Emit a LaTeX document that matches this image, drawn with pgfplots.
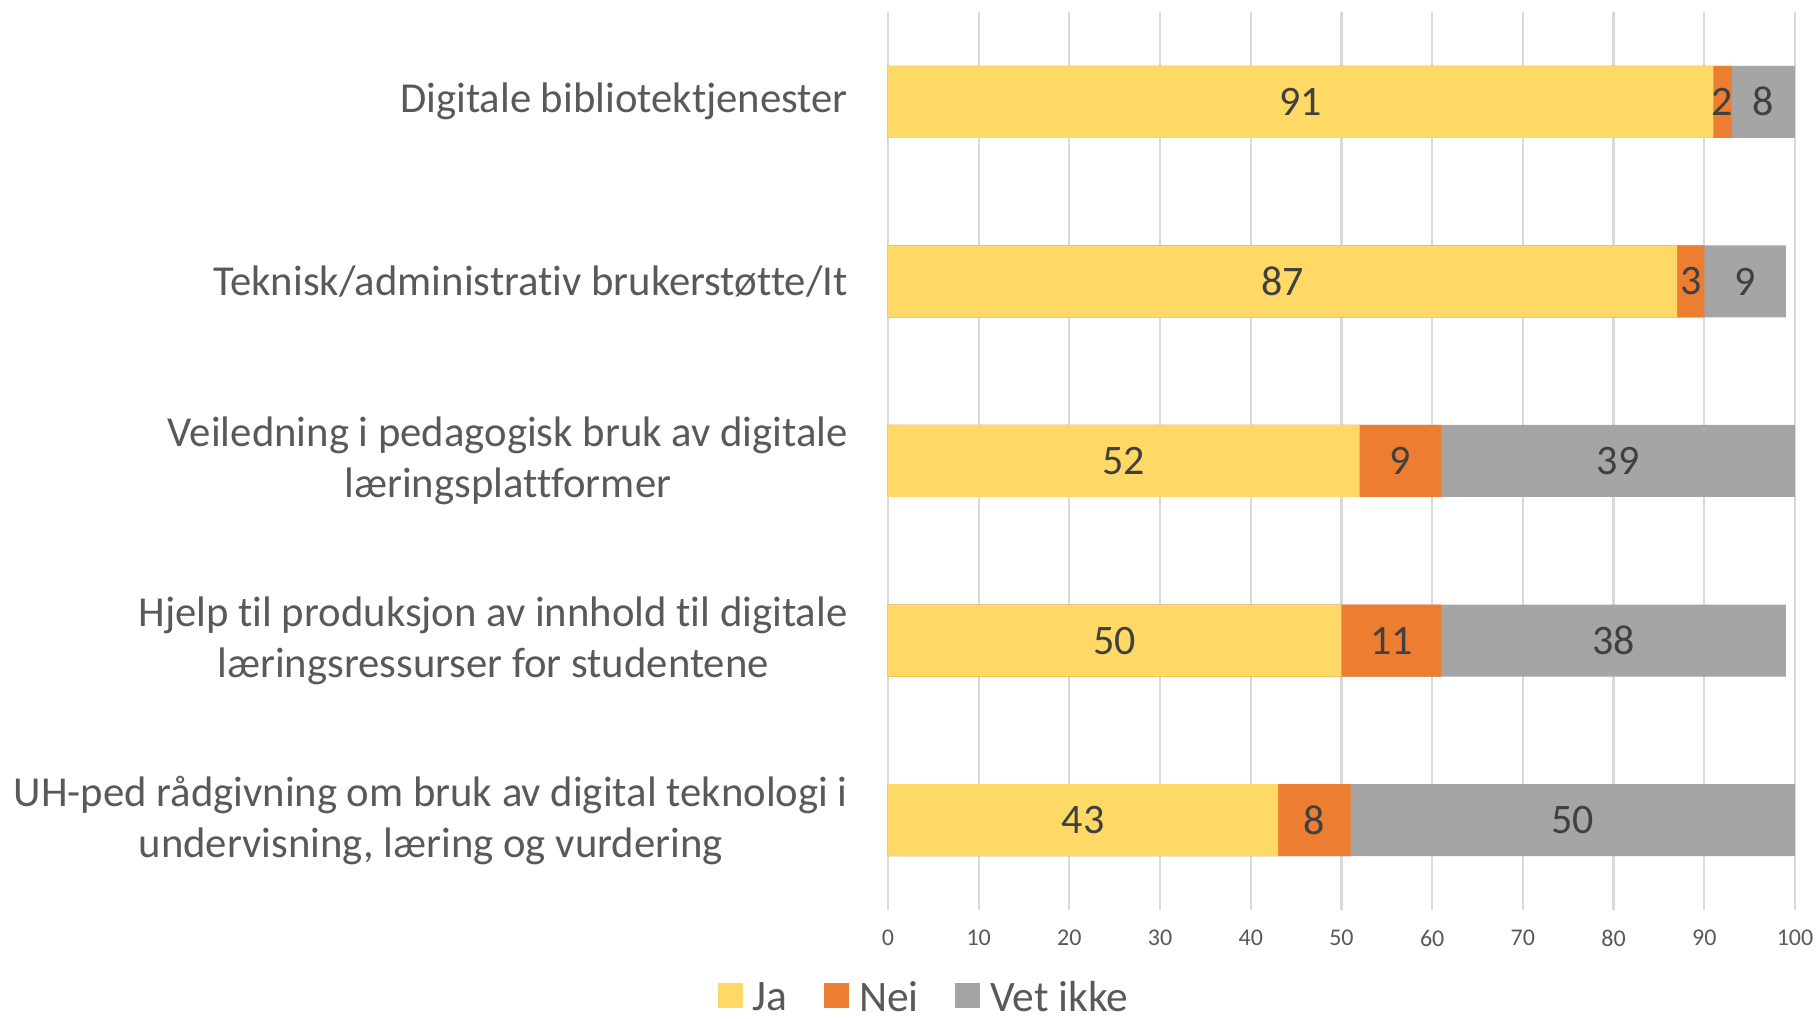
\documentclass[border=0pt]{standalone}
\usepackage{pgfplots}
\pgfplotsset{compat=1.18}
\usepackage{pgfplotstable}
\usepackage{fontspec}
\setmainfont{Carlito}[Ligatures=CommonOff]
\definecolor{jacol}{HTML}{FFD966}
\definecolor{neicol}{HTML}{ED7D31}
\definecolor{vetcol}{HTML}{A5A5A5}
\definecolor{txt}{HTML}{595959}
\definecolor{lbl}{HTML}{404040}
\definecolor{grd}{HTML}{D9D9D9}
% y: 0 = bottom category ... 4 = top category
\pgfplotstableread{
y ja nei vet lja lnei lvet
4 91 2 7 91 2 8
3 87 3 9 87 3 9
2 52 9 39 52 9 39
1 50 11 38 50 11 38
0 43 8 49 43 8 50
}\data
\begin{document}
\begin{tikzpicture}
\begin{axis}[
  scale only axis, width=907bp, height=898bp,
  xmin=0, xmax=100, ymin=-0.5, ymax=4.5,
  xtick={0,10,...,100}, ytick={0,1,2,3,4},
  yticklabels={{UH-ped rådgivning om bruk av digital teknologi i\\undervisning, læring og vurdering},
               {Hjelp til produksjon av innhold til digitale\\læringsressurser for studentene},
               {Veiledning i pedagogisk bruk av digitale\\læringsplattformer},
               {Teknisk/administrativ brukerstøtte/It},
               {Digitale bibliotektjenester}},
  axis line style={draw=none},
  major tick length=0pt,
  xmajorgrids, grid style={grd, line width=2.2bp},
  /pgf/number format/assume math mode=true,
  xticklabel style={font=\fontsize{24bp}{29bp}\selectfont, text=txt, yshift=-16.5bp},
  yticklabel style={font=\fontsize{42.7bp}{51bp}\selectfont, text=txt, align=center, inner sep=0pt, xshift=-40bp},
  legend columns=-1,
  legend image code/.code={\fill[#1] (0bp,-10bp) rectangle (24bp,14bp);},
  legend style={draw=none, fill=none, at={(0.0385,-0.0975)}, anchor=center,
    font=\fontsize{43.5bp}{50bp}\selectfont, text=txt,
    nodes={inner sep=0pt},
    /tikz/every odd column/.append style={column sep=11bp},
    /tikz/every even column/.append style={column sep=36bp}},
  clip=false,
]
\addlegendimage{jacol}\addlegendentry{Ja}
\addlegendimage{neicol}\addlegendentry{Nei}
\addlegendimage{vetcol}\addlegendentry{Vet ikke}

\addplot[xbar, bar shift=0pt, bar width=72bp, fill=vetcol, draw=none, forget plot]
  table[x expr=\thisrow{ja}+\thisrow{nei}+\thisrow{vet}, y=y]{\data};
\addplot[xbar, bar shift=0pt, bar width=72bp, fill=neicol, draw=none, forget plot]
  table[x expr=\thisrow{ja}+\thisrow{nei}, y=y]{\data};
\addplot[xbar, bar shift=0pt, bar width=72bp, fill=jacol, draw=none, forget plot]
  table[x=ja, y=y]{\data};

\pgfplotsset{lblstyle/.style={forget plot, draw=none, mark=none, nodes near coords,
  point meta=explicit symbolic, nodes near coords align={center},
  every node near coord/.append style={anchor=center, text=lbl, font=\fontsize{42bp}{50bp}\selectfont}}}
\addplot[lblstyle] table[x expr=\thisrow{ja}/2, y=y, meta=lja]{\data};
\addplot[lblstyle] table[x expr=\thisrow{ja}+\thisrow{nei}/2, y=y, meta=lnei]{\data};
\addplot[lblstyle] table[x expr=\thisrow{ja}+\thisrow{nei}+\thisrow{vet}/2, y=y, meta=lvet]{\data};
\end{axis}
\pgfresetboundingbox
\path (current axis.south west) ++(-888bp,-109bp) rectangle ++(1818bp,1019bp);
\end{tikzpicture}
\end{document}
